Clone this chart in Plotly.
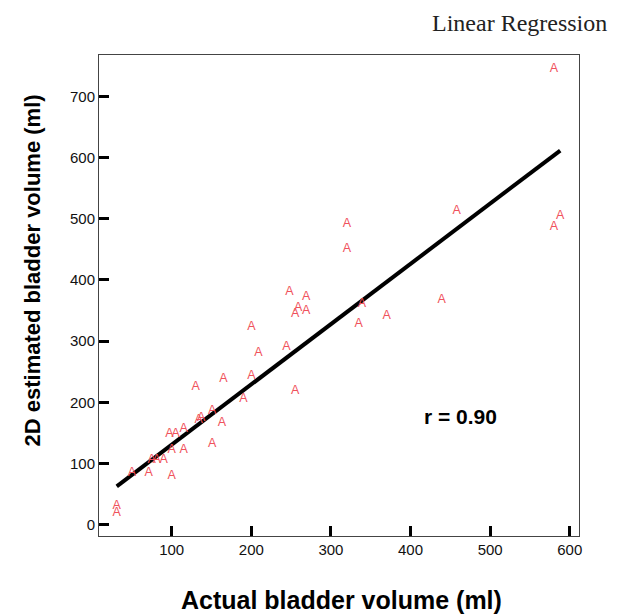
import plotly.graph_objects as go

# Data
actual_ml = [580, 458, 588, 580, 320, 320, 439, 248, 269, 259, 255, 269, 339, 370, 335,
             200, 209, 244, 255, 200, 165, 130, 190, 151, 134, 137, 163, 97, 105, 115,
             100, 115, 151, 75, 81, 90, 50, 71, 100, 31, 31]
estimated_ml = [745, 512, 504, 487, 491, 450, 368, 380, 372, 354, 344, 349, 360, 341, 328,
                324, 281, 290, 218, 243, 238, 226, 206, 186, 171, 175, 166, 149, 149, 157,
                123, 123, 132, 106, 106, 106, 84, 84, 79, 30, 19]

fit_slope = 0.985
fit_intercept = 32.2
r_value = 0.90

x_ticks = [100, 200, 300, 400, 500, 600]
y_ticks = [0, 100, 200, 300, 400, 500, 600, 700]

x_min = min(actual_ml)
x_max = max(actual_ml)
line_x = [x_min, x_max]
line_y = [fit_intercept + fit_slope * v for v in line_x]

fig = go.Figure()
fig.add_trace(go.Scatter(
    x=line_x, y=line_y, mode="lines",
    line=dict(color="black", width=4),
    hoverinfo="skip", showlegend=False,
))
fig.add_trace(go.Scatter(
    x=actual_ml, y=estimated_ml, mode="text",
    text=["A"] * len(actual_ml),
    textposition="middle center",
    textfont=dict(family="Arial, Liberation Sans, sans-serif", size=12.5, color="#F0525C"),
    showlegend=False,
))

axis_common = dict(
    showgrid=False, zeroline=False,
    showline=True, linecolor="#444444", linewidth=1, mirror=True,
    ticks="inside", ticklen=10, tickwidth=3, tickcolor="black",
    tickfont=dict(family="Arial, Liberation Sans, sans-serif", size=15, color="#111111"),
)

fig.update_layout(
    width=613, height=607,
    margin=dict(l=91, r=42, t=47, b=79),
    paper_bgcolor="white", plot_bgcolor="white",
    xaxis=dict(range=[8.7, 611.6], tickvals=x_ticks, **axis_common),
    yaxis=dict(range=[-18.5, 767.5], tickvals=y_ticks, **axis_common),
    annotations=[
        dict(text="Linear Regression", xref="paper", yref="paper",
             x=1.0, y=1.0, xanchor="right", yanchor="middle", showarrow=False,
             xshift=30, yshift=32,
             font=dict(family="Liberation Serif, Times New Roman, serif", size=24, color="#222222")),
        dict(text="<b>2D estimated bladder volume (ml)</b>", xref="paper", yref="paper",
             x=0, y=0.5, xanchor="center", yanchor="middle", textangle=-90, showarrow=False,
             xshift=-67, yshift=25,
             font=dict(family="Arial, Liberation Sans, sans-serif", size=22, color="black")),
        dict(text="<b>Actual bladder volume (ml)</b>", xref="paper", yref="paper",
             x=0.5, y=0, xanchor="center", yanchor="middle", showarrow=False,
             xshift=2, yshift=-64,
             font=dict(family="Arial, Liberation Sans, sans-serif", size=25, color="black")),
        dict(text=f"<b>r = {r_value:.2f}</b>", xref="x", yref="y",
             x=463, y=176, xanchor="center", yanchor="middle", showarrow=False,
             font=dict(family="Arial, Liberation Sans, sans-serif", size=21, color="black")),
    ],
)

fig.write_html("out.html")
